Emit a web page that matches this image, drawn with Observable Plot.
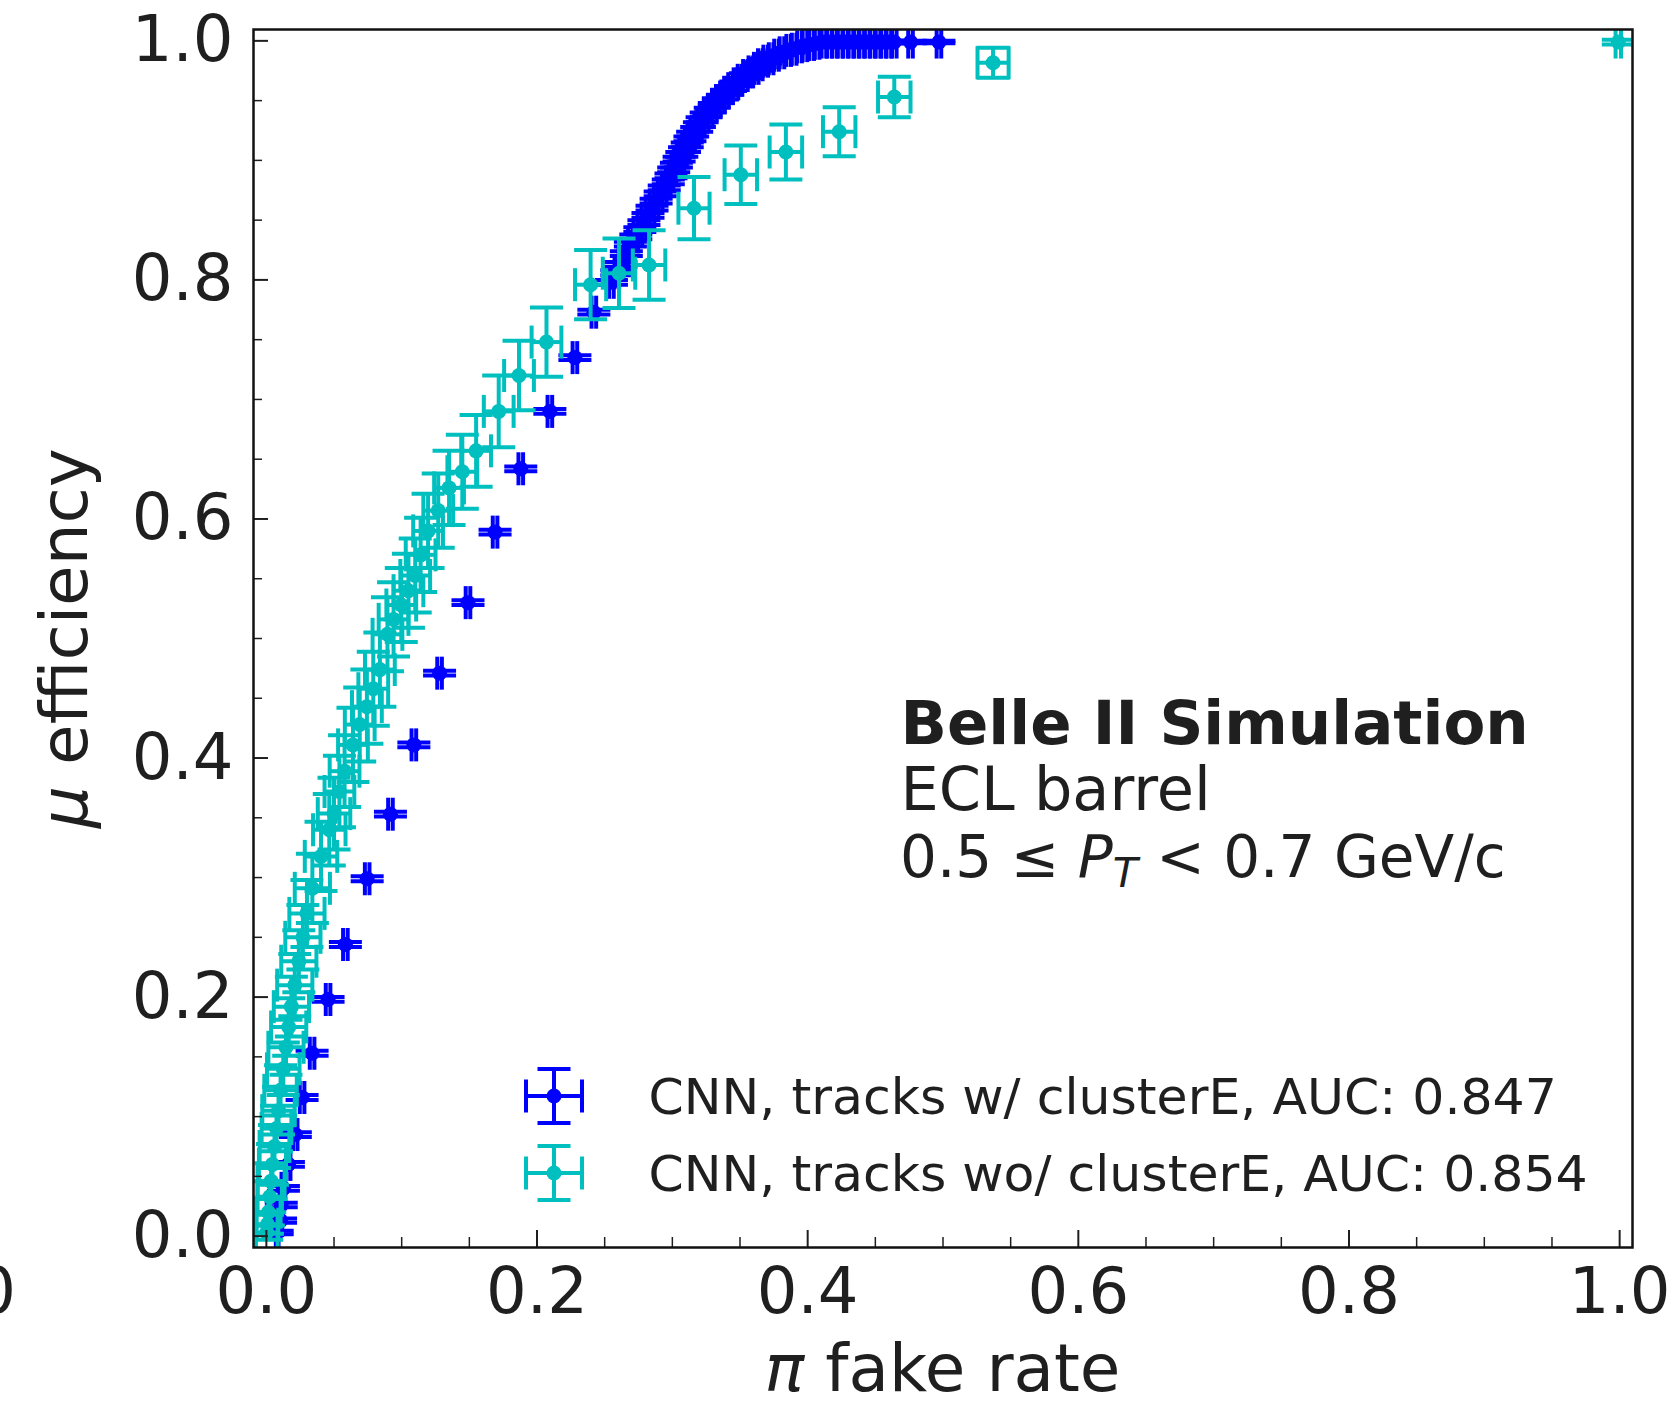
<!DOCTYPE html>
<html><head><meta charset="utf-8">
<script src="https://cdn.jsdelivr.net/npm/d3@7"></script>
<script src="https://cdn.jsdelivr.net/npm/@observablehq/plot@0.6"></script>
<style>body{margin:0;background:#fff} svg{display:block}</style>
</head><body><div id="chart"></div>
<script>
// ---- tick values ----
const xTicks = [0.0, 0.2, 0.4, 0.6, 0.8, 1.0];
const yTicks = [0.0, 0.2, 0.4, 0.6, 0.8, 1.0];
const xMinor = [0.05,0.1,0.15,0.25,0.3,0.35,0.45,0.5,0.55,0.65,0.7,0.75,0.85,0.9,0.95];
const yMinor = [0.05,0.1,0.15,0.25,0.3,0.35,0.45,0.5,0.55,0.65,0.7,0.75,0.85,0.9,0.95];

// ---- series labels ----
const seriesNames = ["CNN, tracks w/ clusterE, AUC: 0.847", "CNN, tracks wo/ clusterE, AUC: 0.854"];

// ---- series 1: CNN, tracks w/ clusterE (blue) : [fake rate, efficiency, x error, y error] ----
const blueRows = [
  [0.008,0.003,0.0010,0.0015],[0.0105,0.013,0.0012,0.0018],[0.011,0.026,0.0013,0.0019],[0.0126,0.040,0.0014,0.002],
  [0.0163,0.060,0.0015,0.002],[0.0214,0.085,0.0016,0.002],[0.0264,0.116,0.0017,0.002],[0.0338,0.153,0.0017,0.002],
  [0.0456,0.198,0.0017,0.002],[0.0584,0.244,0.0017,0.002],[0.0745,0.299,0.0017,0.002],[0.0917,0.353,0.0017,0.002],
  [0.109,0.411,0.0017,0.002],[0.128,0.471,0.0017,0.002],[0.149,0.530,0.0017,0.002],[0.169,0.589,0.0017,0.002],
  [0.188,0.642,0.0017,0.002],[0.2095,0.690,0.0017,0.002],[0.228,0.735,0.0017,0.002],[0.242,0.773,0.0017,0.002],
  [0.255,0.798,0.0017,0.002],[0.259,0.806,0.0017,0.002],[0.262,0.813,0.0017,0.002],[0.266,0.822,0.0017,0.002],
  [0.269,0.830,0.0017,0.002],[0.273,0.836,0.0017,0.002],[0.276,0.842,0.0017,0.002],[0.279,0.848,0.0017,0.002],
  [0.282,0.854,0.0017,0.002],[0.285,0.860,0.0017,0.002],[0.288,0.866,0.0017,0.002],[0.291,0.872,0.0017,0.002],
  [0.294,0.877,0.0017,0.002],[0.297,0.882,0.0017,0.002],[0.299,0.887,0.0017,0.002],[0.301,0.892,0.0017,0.002],
  [0.303,0.896,0.0017,0.002],[0.305,0.901,0.0017,0.002],[0.307,0.905,0.0017,0.002],[0.309,0.909,0.0017,0.002],
  [0.311,0.913,0.0017,0.002],[0.313,0.918,0.0017,0.002],[0.315,0.922,0.0017,0.002],[0.318,0.926,0.0017,0.002],
  [0.320,0.930,0.0017,0.002],[0.322,0.934,0.0017,0.002],[0.325,0.938,0.0017,0.002],[0.328,0.942,0.0017,0.002],
  [0.331,0.946,0.0017,0.002],[0.334,0.950,0.0017,0.002],[0.337,0.953,0.0017,0.002],[0.340,0.957,0.0017,0.002],
  [0.343,0.960,0.0017,0.002],[0.347,0.964,0.0017,0.002],[0.350,0.967,0.0017,0.002],[0.354,0.971,0.0017,0.002],
  [0.358,0.974,0.0017,0.002],[0.362,0.977,0.0017,0.002],[0.365,0.980,0.0017,0.002],[0.369,0.983,0.0017,0.002],
  [0.373,0.985,0.0017,0.002],[0.377,0.988,0.0017,0.002],[0.381,0.990,0.0017,0.002],[0.386,0.992,0.0017,0.002],
  [0.390,0.993,0.0017,0.002],[0.394,0.995,0.0017,0.0015],[0.398,0.996,0.0017,0.0015],[0.403,0.997,0.0017,0.0015],
  [0.407,0.998,0.0017,0.0015],[0.412,0.999,0.0017,0.001],[0.416,0.999,0.0017,0.001],[0.420,0.999,0.0017,0.001],
  [0.424,0.999,0.0017,0.001],[0.428,0.999,0.0017,0.001],[0.432,0.999,0.0017,0.001],[0.436,0.999,0.0017,0.001],
  [0.440,0.999,0.0017,0.001],[0.444,0.999,0.0017,0.001],[0.448,0.999,0.0017,0.001],[0.452,0.999,0.0017,0.001],
  [0.456,0.999,0.0017,0.001],[0.460,0.999,0.0017,0.001],[0.464,0.999,0.0017,0.001],[0.476,0.999,0.0017,0.001],
  [0.497,0.999,0.0017,0.001]
];

// ---- series 2: CNN, tracks wo/ clusterE (cyan) : [fake rate, efficiency, x error, y error] ----
const cyanRows = [
  [0.0003,0.003,0.008,0.006],[0.0008,0.010,0.008,0.008],[0.0015,0.020,0.009,0.011],[0.0025,0.033,0.009,0.013],
  [0.0035,0.046,0.010,0.015],[0.0045,0.060,0.010,0.017],[0.006,0.075,0.011,0.018],[0.0075,0.090,0.011,0.019],
  [0.009,0.105,0.012,0.020],[0.0105,0.122,0.012,0.021],[0.0125,0.140,0.012,0.022],[0.0145,0.158,0.013,0.023],
  [0.0165,0.175,0.013,0.024],[0.0185,0.192,0.013,0.025],[0.021,0.210,0.013,0.026],[0.024,0.230,0.013,0.026],
  [0.027,0.250,0.013,0.027],[0.030,0.270,0.013,0.028],[0.034,0.291,0.013,0.029],[0.0404,0.3177,0.012,0.029],
  [0.0465,0.340,0.012,0.030],[0.050,0.3535,0.012,0.030],[0.054,0.372,0.011,0.030],[0.0578,0.389,0.011,0.030],
  [0.064,0.411,0.011,0.031],[0.069,0.428,0.011,0.031],[0.0743,0.443,0.011,0.031],[0.079,0.458,0.011,0.031],
  [0.0839,0.474,0.011,0.031],[0.0895,0.5035,0.011,0.031],[0.094,0.516,0.011,0.031],[0.0997,0.528,0.011,0.031],
  [0.105,0.540,0.011,0.031],[0.110,0.5527,0.011,0.031],[0.114,0.570,0.011,0.031],[0.1195,0.590,0.011,0.031],
  [0.127,0.607,0.011,0.031],[0.135,0.626,0.011,0.031],[0.1448,0.6395,0.011,0.031],[0.155,0.657,0.011,0.030],
  [0.1717,0.690,0.011,0.030],[0.1867,0.720,0.011,0.029],[0.207,0.748,0.011,0.029],[0.2396,0.796,0.0115,0.029],
  [0.2606,0.8056,0.012,0.029],[0.2828,0.8125,0.012,0.029],[0.316,0.860,0.0115,0.026],[0.3506,0.888,0.012,0.0245],
  [0.3839,0.907,0.012,0.023],[0.4233,0.924,0.012,0.0205],[0.464,0.953,0.012,0.017],[0.537,0.9817,0.0115,0.0125],
  [0.999,0.999,0.002,0.002]
];

const colors = ["#0000ff", "#00bfbf"];

const toRows = rows => rows.map(([x, y, ex, ey]) => ({x, y, ex, ey}));
const blue = toRows(blueRows);
const cyan = toRows(cyanRows);

// ---- layout ----
const W = 1676, H = 1407;
const mL = 253, mR = 44, mT = 29, mB = 160;
const innerW = W - mL - mR, innerH = H - mT - mB;
const LW = 4;        // error bar line width
const CAP = 16.5;    // cap half length
const DOT = 7.5;     // marker radius
const font = "DejaVu Sans";
const ink = "#1f1f1f";

const vbar = {draw(c, size) { const r = Math.sqrt(size / Math.PI); c.moveTo(0, -r); c.lineTo(0, r); }};
const hbar = {draw(c, size) { const r = Math.sqrt(size / Math.PI); c.moveTo(-r, 0); c.lineTo(r, 0); }};
// legend glyph: error-bar cross with caps (fixed pixel size)
const legendGlyph = {draw(c) {
  const hx = 28, hy = 27;
  c.moveTo(-hx, 0); c.lineTo(hx, 0);
  c.moveTo(0, -hy); c.lineTo(0, hy);
  c.moveTo(-hx, -CAP); c.lineTo(-hx, CAP);
  c.moveTo(hx, -CAP); c.lineTo(hx, CAP);
  c.moveTo(-CAP, -hy); c.lineTo(CAP, -hy);
  c.moveTo(-CAP, hy); c.lineTo(CAP, hy);
}};

function errMarks(data, color) {
  const common = {stroke: color, strokeWidth: LW, clip: true};
  return [
    Plot.ruleY(data, {y: "y", x1: d => d.x - d.ex, x2: d => d.x + d.ex, ...common}),
    Plot.ruleX(data, {x: "x", y1: d => d.y - d.ey, y2: d => d.y + d.ey, ...common}),
    Plot.dot(data, {x: d => d.x - d.ex, y: "y", symbol: vbar, r: CAP, fill: "none", ...common}),
    Plot.dot(data, {x: d => d.x + d.ex, y: "y", symbol: vbar, r: CAP, fill: "none", ...common}),
    Plot.dot(data, {x: "x", y: d => d.y - d.ey, symbol: hbar, r: CAP, fill: "none", ...common}),
    Plot.dot(data, {x: "x", y: d => d.y + d.ey, symbol: hbar, r: CAP, fill: "none", ...common}),
    Plot.dot(data, {x: "x", y: "y", r: DOT, fill: color, stroke: "none", clip: true})
  ];
}

const legendRows = [0, 1];
const legendDy = [-151.5, -74.5];

const chart = Plot.plot({
  width: W, height: H,
  marginLeft: mL, marginRight: mR, marginTop: mT, marginBottom: mB,
  style: {fontFamily: font, color: ink, background: "white"},
  x: {domain: [-0.0095, 1.0095], axis: null},
  y: {domain: [-0.0095, 1.0095], axis: null},
  marks: [
    ...errMarks(blue, colors[0]),
    ...errMarks(cyan, colors[1]),
    // inward ticks
    Plot.tickY(yTicks, {y: d => d, stroke: ink, strokeWidth: 2, insetRight: innerW - 15}),
    Plot.tickY(yMinor, {y: d => d, stroke: ink, strokeWidth: 1.5, insetRight: innerW - 9}),
    Plot.tickX(xTicks, {x: d => d, stroke: ink, strokeWidth: 2, insetTop: innerH - 17}),
    Plot.tickX(xMinor, {x: d => d, stroke: ink, strokeWidth: 1.5, insetTop: innerH - 10}),
    // tick labels
    Plot.axisX(xTicks, {anchor: "bottom", tickSize: 0, tickPadding: 20, fontSize: 64, tickFormat: d => d.toFixed(1), label: null}),
    Plot.axisY(yTicks, {anchor: "left", tickSize: 0, tickPadding: 20, fontSize: 64, tickFormat: d => d.toFixed(1), label: null}),
    Plot.frame({stroke: "#111", strokeWidth: 2.5}),
    // legend
    ...legendRows.map(i => Plot.dot([i], {frameAnchor: "bottom-left", dx: 300.5, dy: legendDy[i], symbol: legendGlyph, r: 1, stroke: colors[i], fill: "none", strokeWidth: LW})),
    ...legendRows.map(i => Plot.dot([i], {frameAnchor: "bottom-left", dx: 300.5, dy: legendDy[i], r: DOT, fill: colors[i], stroke: "none"})),
    ...legendRows.map(i => Plot.text([seriesNames[i]], {text: d => d, frameAnchor: "bottom-left", dx: 395, dy: legendDy[i] + 18, textAnchor: "start", lineAnchor: "bottom", fontSize: 50.5, fill: ink})),
    // annotation
    Plot.text(["Belle II Simulation"], {text: d => d, frameAnchor: "top-left", dx: 647, dy: 714, textAnchor: "start", lineAnchor: "bottom", fontSize: 61, fontWeight: "bold", fill: ink}),
    Plot.text(["ECL barrel"], {text: d => d, frameAnchor: "top-left", dx: 647, dy: 780, textAnchor: "start", lineAnchor: "bottom", fontSize: 60.5, fill: ink})
  ]
});

document.getElementById("chart").appendChild(chart);

// text with mixed styles (italic symbols, subscript)
const svg = d3.select(chart);
const pt = svg.append("text").attr("x", mL + 647).attr("y", mT + 847.5).attr("text-anchor", "start")
  .attr("font-family", font).attr("font-size", 58).attr("fill", ink);
pt.append("tspan").text("0.5 ≤ ");
pt.append("tspan").attr("font-style", "italic").text("P");
pt.append("tspan").attr("font-style", "italic").attr("font-size", 41).attr("dy", 10).text("T");
pt.append("tspan").attr("dy", -10).text(" < 0.7 GeV/c");

const xl = svg.append("text").attr("x", mL + innerW / 2).attr("y", 1391).attr("text-anchor", "middle")
  .attr("font-family", font).attr("font-size", 66).attr("fill", ink);
xl.append("tspan").attr("font-style", "italic").text("π");
xl.append("tspan").text(" fake rate");

const yl = svg.append("text").attr("transform", `translate(87,${mT + innerH / 2}) rotate(-90)`).attr("text-anchor", "middle")
  .attr("font-family", font).attr("font-size", 66).attr("fill", ink);
yl.append("tspan").attr("font-style", "italic").text("μ");
yl.append("tspan").text(" efficiency");

// clipped tick label from a neighbouring panel visible at the far left edge
svg.append("text").attr("x", 16).attr("y", 1313).attr("text-anchor", "end")
  .attr("font-family", font).attr("font-size", 64).attr("fill", ink).text("1.0");
</script></body></html>
